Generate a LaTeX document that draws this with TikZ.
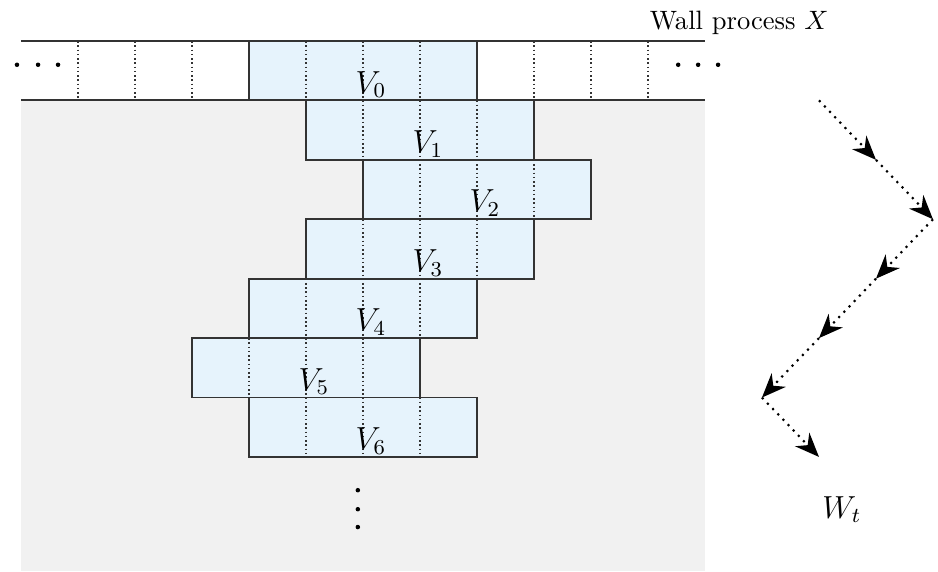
\documentclass[tikz,border=0pt]{standalone}
\usepackage{tikz}
\usetikzlibrary{arrows.meta, fit}
\definecolor{boxblue}{HTML}{E6F3FC}
\definecolor{wallgray}{HTML}{F1F1F1}
\tikzset{
  vbox/.style={rectangle, draw=black!80, line width=0.7pt, fill=boxblue, inner sep=0pt},
  vlab/.style={anchor=north, inner sep=0pt, xshift=3pt, font=\large},
  cellsep/.style={densely dotted, line width=0.6pt, black!80},
  wall/.style={line width=0.7pt, black!80},
  walk/.style={-{Stealth[length=3.2mm, width=2.6mm]}, dotted, line width=0.8pt},
}

\begin{document}
\begin{tikzpicture}[x=0.754cm, y=-0.786cm]
\useasboundingbox (-0.368,-0.69) rectangle (16.088,8.923);
\fill[wallgray] (0,1) rectangle (12,8.923);

% the blocks V_0 ... V_6
\node[vbox, fit={(4,0) (8,1)}] (v0) {};
\node[vbox, fit={(5,1) (9,2)}] (v1) {};
\node[vbox, fit={(6,2) (10,3)}] (v2) {};
\node[vbox, fit={(5,3) (9,4)}] (v3) {};
\node[vbox, fit={(4,4) (8,5)}] (v4) {};
\node[vbox, fit={(3,5) (7,6)}] (v5) {};
\node[vbox, fit={(4,6) (8,7)}] (v6) {};
\draw[cellsep] (1,0)--(1,1) (2,0)--(2,1) (3,0)--(3,1) (5,0)--(5,1) (6,0)--(6,1) (7,0)--(7,1) (9,0)--(9,1) (10,0)--(10,1) (11,0)--(11,1);
\draw[cellsep] (6,1)--(6,2) (7,1)--(7,2) (8,1)--(8,2);
\draw[cellsep] (7,2)--(7,3) (8,2)--(8,3) (9,2)--(9,3);
\draw[cellsep] (6,3)--(6,4) (7,3)--(7,4) (8,3)--(8,4);
\draw[cellsep] (5,4)--(5,5) (6,4)--(6,5) (7,4)--(7,5);
\draw[cellsep] (4,5)--(4,6) (5,5)--(5,6) (6,5)--(6,6);
\draw[cellsep] (5,6)--(5,7) (6,6)--(6,7) (7,6)--(7,7);
\draw[wall] (0,0) -- (12,0) (0,1) -- (12,1);
\node[vlab] (l0) at (v0.center) {$V_0$};
\node[vlab] (l1) at (v1.center) {$V_1$};
\node[vlab] (l2) at (v2.center) {$V_2$};
\node[vlab] (l3) at (v3.center) {$V_3$};
\node[vlab] (l4) at (v4.center) {$V_4$};
\node[vlab] (l5) at (v5.center) {$V_5$};
\node[vlab] (l6) at (v6.center) {$V_6$};

% dots
\fill (-0.07,0.4) circle (0.85pt) (0.3,0.4) circle (0.85pt) (0.65,0.4) circle (0.85pt);
\fill (11.53,0.4) circle (0.85pt) (11.88,0.4) circle (0.85pt) (12.23,0.4) circle (0.85pt);
\fill (5.91,7.56) circle (0.85pt) (5.91,7.88) circle (0.85pt) (5.91,8.18) circle (0.85pt);
\node[anchor=base] (wallx) at (12.6,-0.19) {Wall process $X$};

% the walk W_t
\coordinate (w0) at (14,1); \coordinate (w1) at (15,2); \coordinate (w2) at (16,3); \coordinate (w3) at (15,4);
\coordinate (w4) at (14,5); \coordinate (w5) at (13,6); \coordinate (w6) at (14,7);
\draw[walk] (w0)--(w1); \draw[walk] (w1)--(w2); \draw[walk] (w2)--(w3);
\draw[walk] (w3)--(w4); \draw[walk] (w4)--(w5); \draw[walk] (w5)--(w6);
\node[anchor=base, font=\large] (wt) at (14.4,8.03) {$W_t$};
\end{tikzpicture}
\end{document}
